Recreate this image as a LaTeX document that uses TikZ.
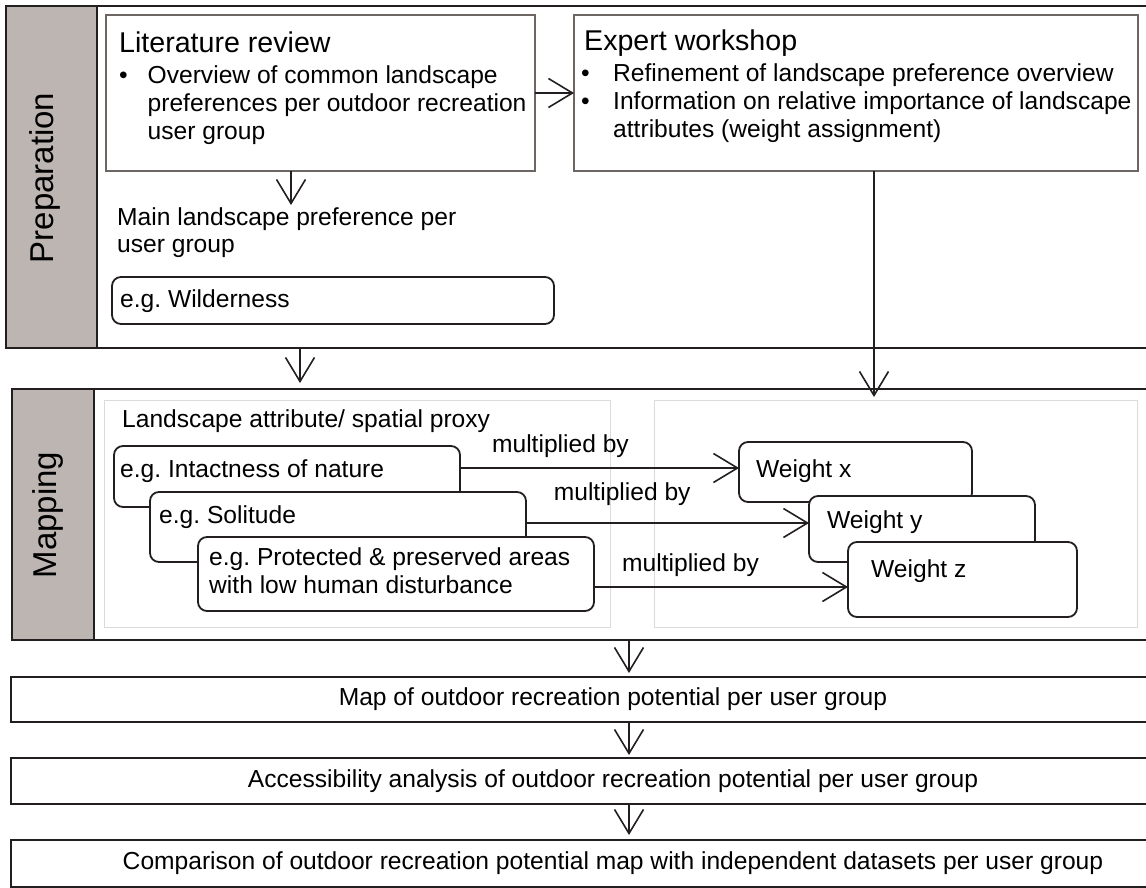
\documentclass[tikz,border=0pt]{standalone}
\usepackage{fontspec}
\setmainfont{Liberation Sans}
\usetikzlibrary{arrows.meta}
\frenchspacing

\definecolor{linedark}{HTML}{231F20}
\definecolor{boxgray}{HTML}{6E6663}
\definecolor{bargray}{HTML}{BCB5B2}
\definecolor{panelgray}{HTML}{DEDAD8}

\newcommand{\txtlines}[1]{\begin{tabular}[t]{@{}l@{}}#1\end{tabular}}
\newcommand{\bulletlines}[2]{\begin{tabular}[t]{@{}p{#1}@{}l@{}}#2\end{tabular}}

\tikzset{
  phase/.style={draw=linedark, line width=1.8pt, rectangle, anchor=north west, inner sep=0pt, outer sep=0pt},
  phasebar/.style={phase, fill=bargray},
  sidelabel/.style={rotate=90, inner sep=0pt, font=\fontsize{33}{38}\selectfont},
  panel/.style={draw=panelgray, line width=1pt, rectangle, anchor=north west, inner sep=0pt, outer sep=0pt},
  srcbox/.style={draw=boxgray, line width=1.4pt, rectangle, anchor=north west, inner sep=0pt, outer sep=0pt},
  attrbox/.style={draw=linedark, fill=white, line width=1.8pt, rounded corners=9pt, rectangle, anchor=north west, inner sep=0pt, outer sep=0pt},
  stepbox/.style={draw=linedark, line width=1.8pt, rectangle, anchor=north west, inner sep=0pt, outer sep=0pt},
  txt/.style={anchor=base west, inner sep=0pt},
  boxtitle/.style={txt, font=\fontsize{28.6}{34}\selectfont},
  lbl/.style={above=10pt, inner sep=0pt},
  arr/.style={draw=linedark, line width=1.6pt, -{Straight Barb[length=24pt,width=29pt]}}
}

\begin{document}
\begin{tikzpicture}[x=1pt, y=-1pt, every node/.style={font=\fontsize{24.6}{28}\selectfont}]
\path[use as bounding box, clip] (0,0) rectangle (1146,888);

% preparation
\node[phase, minimum width=1200pt, minimum height=342pt] (prep) at (6,6) {};
\node[phasebar, minimum width=91pt, minimum height=342pt] (prepbar) at (6,6) {};
\node[sidelabel] (preplabel) at (45,178) {Preparation};

\node[srcbox, minimum width=429pt, minimum height=156pt] (lit) at (106,15) {};
\node[boxtitle] (littitle) at (119,53) {Literature review};
\node[txt] (litlist) at (119,84) {\bulletlines{28.5pt}{\textbullet & Overview of common landscape\\ & preferences per outdoor recreation\\ & user group}};

\node[srcbox, minimum width=564pt, minimum height=156pt] (expert) at (574,15) {};
\node[boxtitle] (exptitle) at (584,51) {Expert workshop};
\node[txt] (explist) at (581,82) {\bulletlines{32pt}{\textbullet & Refinement of landscape preference overview\\ \textbullet & Information on relative importance of landscape\\ & attributes (weight assignment)}};

\draw[arr] (lit.east) -- (expert.west);

\coordinate (tipmain) at (291,205);
\draw[arr] (lit.south -| tipmain) -- (tipmain);
\node[txt] (mainpref) at (117,225) {\txtlines{Main landscape preference per\\user group}};
\node[attrbox, minimum width=442pt, minimum height=47pt] (wild) at (112,277) {};
\node[txt] (wildtxt) at (120,307) {e.g. Wilderness};

% mapping
\node[phase, minimum width=1200pt, minimum height=251pt] (mapping) at (12,389) {};
\node[phasebar, minimum width=82pt, minimum height=251pt] (mapbar) at (12,389) {};
\node[sidelabel] (maplabel) at (48,515) {Mapping};

\coordinate (tipmap) at (300,383);
\draw[arr] (prep.south -| tipmap) -- (tipmap);
\coordinate (tipweight) at (874,397);
\draw[arr] (expert.south -| tipweight) -- (tipweight);

\node[panel, minimum width=506pt, minimum height=227pt] (attrpanel) at (104,400) {};
\node[panel, minimum width=483pt, minimum height=227pt] (weightpanel) at (654,400) {};
\node[txt] (proxy) at (122,427) {Landscape attribute/ spatial proxy};

\node[attrbox, minimum width=346pt, minimum height=61pt] (attr1) at (114,446) {};
\node[txt] (attr1txt) at (120,477) {e.g. Intactness of nature};
\node[attrbox, minimum width=376pt, minimum height=70pt] (attr2) at (150,492) {};
\node[txt] (attr2txt) at (159,523) {e.g. Solitude};
\node[attrbox, minimum width=396pt, minimum height=74pt] (attr3) at (198,537) {};
\node[txt] (attr3txt) at (209,565) {\txtlines{e.g. Protected \& preserved areas\\with low human disturbance}};

\node[attrbox, minimum width=233pt, minimum height=60pt] (wx) at (739,442) {};
\node[txt] (wxtxt) at (756,477) {Weight x};
\node[attrbox, minimum width=226pt, minimum height=66pt] (wy) at (809,496) {};
\node[txt] (wytxt) at (827,528) {Weight y};
\node[attrbox, minimum width=229pt, minimum height=75pt] (wz) at (848,542) {};
\node[txt] (wztxt) at (871,577) {Weight z};

\coordinate (m1) at ([yshift=8.5pt]attr1.east);
\coordinate (m2) at ([yshift=4pt]attr2.east);
\coordinate (m3) at ([yshift=-13pt]attr3.east);
\draw[arr] (m1) -- (m1 -| wx.west) node[lbl, pos=0.36] (mult1) {multiplied by};
\draw[arr] (m2) -- (m2 -| wy.west) node[lbl, above=7pt, pos=0.34] (mult2) {multiplied by};
\draw[arr] (m3) -- (m3 -| wz.west) node[lbl, pos=0.38] (mult3) {multiplied by};

% results
\coordinate (col) at (629,0);
\node[stepbox, minimum width=1204pt, minimum height=45pt] (res1) at (11,677) {Map of outdoor recreation potential per user group};
\node[stepbox, minimum width=1204pt, minimum height=46pt] (res2) at (11,758) {Accessibility analysis of outdoor recreation potential per user group};
\node[stepbox, minimum width=1204pt, minimum height=47pt] (res3) at (11,840) {Comparison of outdoor recreation potential map with independent datasets per user group};

\draw[arr, shorten >=4pt] (mapping.south -| col) -- (res1.north -| col);
\draw[arr, shorten >=3pt] (res1.south -| col) -- (res2.north -| col);
\draw[arr, shorten >=5pt] (res2.south -| col) -- (res3.north -| col);
\end{tikzpicture}
\end{document}
